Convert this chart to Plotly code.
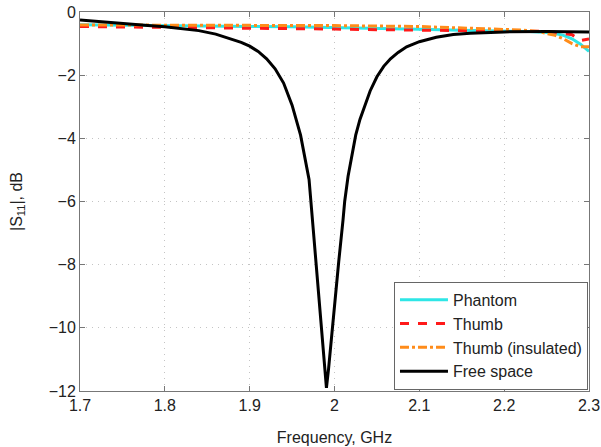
import plotly.graph_objects as go

# Free space
fs_freq = [1.70, 1.72, 1.74, 1.76, 1.78, 1.80, 1.82, 1.84, 1.86, 1.88, 1.89, 1.90, 1.91, 1.92,
           1.93, 1.94, 1.95, 1.96, 1.965, 1.970, 1.975, 1.980, 1.985, 1.988, 1.9905, 1.993,
           1.996, 2.000, 2.005, 2.010, 2.012, 2.016, 2.020, 2.025, 2.030, 2.035, 2.042, 2.050,
           2.058, 2.066, 2.075, 2.085, 2.100, 2.120, 2.140, 2.160, 2.180, 2.200, 2.250, 2.300]
fs_s11 = [-0.25, -0.30, -0.35, -0.39, -0.43, -0.47, -0.52, -0.59, -0.70, -0.86, -0.96, -1.08, -1.25, -1.48,
          -1.80, -2.25, -2.95, -3.90, -4.60, -5.30, -6.90, -8.50, -10.0, -11.0, -11.9, -11.3,
          -10.4, -9.3, -7.9, -6.6, -6.0, -5.2, -4.6, -3.9, -3.4, -3.0, -2.5, -2.05,
          -1.72, -1.48, -1.28, -1.10, -0.94, -0.80, -0.71, -0.67, -0.65, -0.63, -0.62, -0.63]

# Phantom
ph_freq = [1.70, 1.75, 1.80, 1.85, 1.90, 1.95, 2.00, 2.05, 2.10, 2.15, 2.20, 2.23, 2.25, 2.26,
           2.27, 2.28, 2.29, 2.30]
ph_s11 = [-0.40, -0.42, -0.44, -0.45, -0.46, -0.47, -0.49, -0.52, -0.55, -0.58, -0.60, -0.62, -0.65, -0.68,
          -0.74, -0.85, -1.02, -1.25]

# Thumb
th_freq = [1.70, 1.75, 1.80, 1.85, 1.90, 1.95, 2.00, 2.05, 2.10, 2.15, 2.20, 2.24, 2.26, 2.28,
           2.29, 2.30]
th_s11 = [-0.46, -0.47, -0.48, -0.50, -0.52, -0.53, -0.54, -0.56, -0.57, -0.58, -0.59, -0.61, -0.64, -0.72,
          -0.90, -0.85]

# Thumb (insulated)
ti_freq = [1.70, 1.80, 1.90, 2.00, 2.10, 2.15, 2.20, 2.22, 2.24, 2.26, 2.27, 2.28, 2.29, 2.30]
ti_s11 = [-0.41, -0.42, -0.41, -0.43, -0.46, -0.50, -0.54, -0.57, -0.62, -0.74, -0.85, -1.00, -1.10, -1.10]

x_ticks = [1.7, 1.8, 1.9, 2.0, 2.1, 2.2, 2.3]
x_labels = ["1.7", "1.8", "1.9", "2", "2.1", "2.2", "2.3"]
y_ticks = [0, -2, -4, -6, -8, -10, -12]

fig = go.Figure()
fig.add_trace(go.Scatter(x=ph_freq, y=ph_s11, mode="lines", name="Phantom",
                         line=dict(color="#2ee6e6", width=3)))
fig.add_trace(go.Scatter(x=th_freq, y=th_s11, mode="lines", name="Thumb",
                         line=dict(color="#ff1a1a", width=3, dash="dash")))
fig.add_trace(go.Scatter(x=ti_freq, y=ti_s11, mode="lines", name="Thumb (insulated)",
                         line=dict(color="#ff8c1a", width=3, dash="dashdot")))
fig.add_trace(go.Scatter(x=fs_freq, y=fs_s11, mode="lines", name="Free space",
                         line=dict(color="black", width=3)))

axis_common = dict(showline=True, linecolor="#777777", linewidth=1, mirror="ticks",
                   ticks="inside", ticklen=5, tickcolor="#777777", automargin=False,
                   showgrid=True, gridcolor="#c4c4c4", griddash="1px,5px", gridwidth=1,
                   zeroline=False, tickfont=dict(size=16, color="#222222"))

fig.update_xaxes(range=[1.7, 2.3], tickvals=x_ticks, ticktext=x_labels,
                 title=dict(text="Frequency, GHz", font=dict(size=16, color="#222222"), standoff=18),
                 **axis_common)
fig.update_yaxes(range=[-12, 0], tickvals=y_ticks,
                 title=dict(text="|S<sub>11</sub>|, dB", font=dict(size=16, color="#222222"), standoff=22),
                 **axis_common)

fig.update_layout(
    width=601, height=447,
    margin=dict(l=80, r=12, t=12, b=56),
    plot_bgcolor="white", paper_bgcolor="white",
    font=dict(family="Liberation Sans, Arial, sans-serif", size=16, color="#222222"),
    legend=dict(x=0.998, y=0.003, xanchor="right", yanchor="bottom",
                bgcolor="white", bordercolor="#666666", borderwidth=1,
                font=dict(size=16, color="#222222"), tracegroupgap=0,
                itemwidth=48),
)

fig.write_html("out.html", config={"displayModeBar": False},
               post_script="document.body.style.margin='0';")
